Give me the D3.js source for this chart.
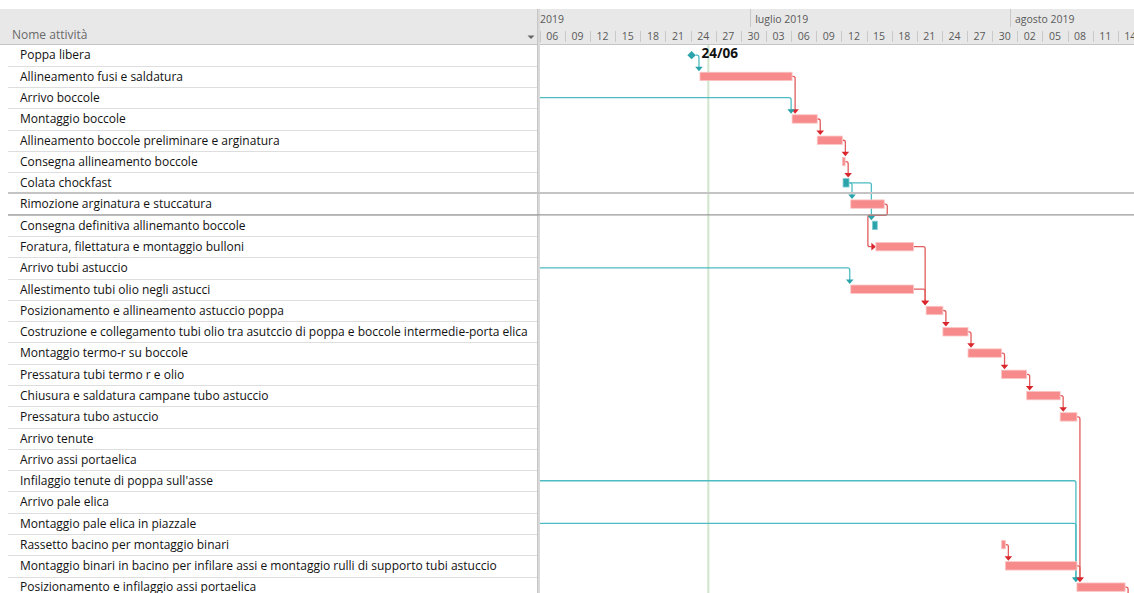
<!DOCTYPE html>
<html lang="it">
<head>
<meta charset="utf-8">
<title>Gantt – lavori poppa</title>
<script src="https://cdn.jsdelivr.net/npm/d3@7"></script>
<style>
  html, body { margin: 0; padding: 0; background: #fff; }
  svg { display: block; font-family: "Open Sans", "Noto Sans", sans-serif; }
</style>
</head>
<body>
<svg id="gantt" width="1134" height="593"></svg>
<script>
// ---- Attività ----
const taskNames = [
  "Poppa libera",
  "Allineamento fusi e saldatura",
  "Arrivo boccole",
  "Montaggio boccole",
  "Allineamento boccole preliminare e arginatura",
  "Consegna allineamento boccole",
  "Colata chockfast",
  "Rimozione arginatura e stuccatura",
  "Consegna definitiva allinemanto boccole",
  "Foratura, filettatura e montaggio bulloni",
  "Arrivo tubi astuccio",
  "Allestimento tubi olio negli astucci",
  "Posizionamento e allineamento astuccio poppa",
  "Costruzione e collegamento tubi olio tra asutccio di poppa e boccole intermedie-porta elica",
  "Montaggio termo-r su boccole",
  "Pressatura tubi termo r e olio",
  "Chiusura e saldatura campane tubo astuccio",
  "Pressatura tubo astuccio",
  "Arrivo tenute",
  "Arrivo assi portaelica",
  "Infilaggio tenute di poppa sull'asse",
  "Arrivo pale elica",
  "Montaggio pale elica in piazzale",
  "Rassetto bacino per montaggio binari",
  "Montaggio binari in bacino per infilare assi e montaggio rulli di supporto tubi astuccio",
  "Posizionamento e infilaggio assi portaelica"
];

// Inizio / fine (null = prima del periodo visualizzato)
const taskStart = [
  "2019-06-24T00:00", "2019-06-25T00:00", null, "2019-07-06T00:00", "2019-07-09T00:00",
  "2019-07-12T00:00", "2019-07-12T02:00", "2019-07-13T00:00", "2019-07-15T14:00", "2019-07-16T00:00",
  null, "2019-07-13T00:00", "2019-07-22T00:00", "2019-07-24T00:00", "2019-07-27T00:00",
  "2019-07-31T00:00", "2019-08-03T00:00", "2019-08-07T00:00", null, null,
  null, null, null, "2019-07-31T00:00", "2019-07-31T11:00",
  "2019-08-09T00:00"
];
const taskEnd = [
  "2019-06-24T00:00", "2019-07-06T00:00", null, "2019-07-09T00:00", "2019-07-12T00:00",
  "2019-07-12T08:00", "2019-07-12T19:00", "2019-07-17T00:00", "2019-07-16T04:00", "2019-07-20T12:00",
  null, "2019-07-20T12:00", "2019-07-24T00:00", "2019-07-27T00:00", "2019-07-31T00:00",
  "2019-08-03T00:00", "2019-08-07T00:00", "2019-08-09T00:00", null, null,
  null, null, null, "2019-07-31T11:00", "2019-08-09T00:00",
  "2019-08-14T18:00"
];
// m = milestone, r = attività, t = attività evidenziata, o = fuori periodo
const taskKind = [
  "m", "r", "o", "r", "r", "r", "t", "r", "t", "r",
  "o", "r", "r", "r", "r", "r", "r", "r", "o", "o",
  "o", "o", "o", "r", "r", "r"
];

// Collegamenti fine-inizio (predecessore -> successore, -1 = oltre la vista)
const linkFrom = [0, 1, 2, 3, 4, 5, 6, 6, 7, 9, 10, 11, 12, 13, 14, 15, 16, 17, 20, 22, 23, 24, 25];
const linkTo   = [1, 3, 3, 4, 5, 6, 7, 8, 9, 12, 11, 12, 13, 14, 15, 16, 17, 25, 25, 25, 24, 25, -1];

const viewStart = "2019-06-06";
const viewEnd = "2019-08-14";
const statusDate = "2019-06-26";

// ---- Layout ----
const W = 1134, H = 593;
const headTop = 9, headMid = 27, headBot = 44.5;
const rowH = 21.28;
const tableRight = 537;
const chartLeft = 540;
const barH = 8.4;

const COL = {
  bar: "#f78b8b", barEdge: "#fbc6c6",
  teal: "#2aa3ab", tealLine: "#4cbcc2",
  redLine: "#e25c5c", redArrow: "#d9262c",
  grid: "#dedede", head: "#e8e8e8", headText: "#5a5a5a",
  today: "#cfe6cc"
};

const parse = d3.isoParse;
const itLocale = d3.timeFormatLocale({
  dateTime: "%A %e %B %Y, %X", date: "%d/%m/%Y", time: "%H:%M:%S",
  periods: ["AM", "PM"],
  days: ["domenica","lunedì","martedì","mercoledì","giovedì","venerdì","sabato"],
  shortDays: ["dom","lun","mar","mer","gio","ven","sab"],
  months: ["gennaio","febbraio","marzo","aprile","maggio","giugno","luglio","agosto","settembre","ottobre","novembre","dicembre"],
  shortMonths: ["gen","feb","mar","apr","mag","giu","lug","ago","set","ott","nov","dic"]
});

const x = d3.scaleTime()
  .domain([parse(viewStart), parse(viewEnd)])
  .range([540.8, 540.8 + 69 * 8.377]);

const y = d3.scaleLinear()
  .domain([0, taskNames.length])
  .range([headBot, headBot + taskNames.length * rowH]);
const rowC = i => y(i + 0.5);

const svg = d3.select("#gantt");

// ---- Tabella a sinistra ----
svg.append("clipPath").attr("id", "clipTable").append("rect")
  .attr("x", 0).attr("y", 0).attr("width", tableRight - 2).attr("height", H);
const table = svg.append("g");
table.selectAll("line.row").data(d3.range(1, taskNames.length + 1)).join("line")
  .attr("x1", 8).attr("x2", tableRight)
  .attr("y1", i => Math.round(y(i)) + 0.5).attr("y2", i => Math.round(y(i)) + 0.5)
  .attr("stroke", COL.grid);

table.append("g").attr("clip-path", "url(#clipTable)")
  .selectAll("text.name").data(taskNames).join("text")
  .attr("x", 20).attr("y", (d, i) => rowC(i)).attr("dy", "0.36em")
  .attr("font-size", 12).attr("fill", "#111")
  .text(d => d);

// ---- Intestazione ----
const head = svg.append("g");
head.append("rect").attr("x", 0).attr("y", headTop).attr("width", W).attr("height", headBot - headTop)
  .attr("fill", COL.head);
head.append("line").attr("x1", 0).attr("x2", W).attr("y1", headBot).attr("y2", headBot)
  .attr("stroke", "#c4c4c4");
head.append("text").attr("x", 12).attr("y", 39).attr("font-size", 12).attr("fill", "#6a6a6a")
  .text("Nome attività");
head.append("path").attr("d", "M527.5,35.5 h7 l-3.5,3.5 z").attr("fill", "#666");

// scala temporale: mesi e intervalli di 3 giorni
svg.append("clipPath").attr("id", "clipHead").append("rect")
  .attr("x", chartLeft).attr("y", headTop).attr("width", W - chartLeft).attr("height", headBot - headTop);
const chartHead = head.append("g").attr("clip-path", "url(#clipHead)");

const months = d3.timeMonth.range(parse("2019-06-01"), parse("2019-09-01"));
const fmtMonth = itLocale.format("%B %Y");
chartHead.selectAll("line.month").data(months).join("line")
  .attr("x1", d => Math.round(x(d)) + 0.5).attr("x2", d => Math.round(x(d)) + 0.5)
  .attr("y1", headTop).attr("y2", headMid)
  .attr("stroke", "#c9c9c9");
chartHead.selectAll("text.month").data(months).join("text")
  .attr("x", d => x(d) + 5).attr("y", 23).attr("font-size", 10.5).attr("fill", COL.headText)
  .text(d => fmtMonth(d));

const ticks = d3.timeDay.range(parse("2019-05-31"), parse("2019-08-20"), 3);
const fmtDay = d3.timeFormat("%d");
chartHead.selectAll("line.tick").data(ticks).join("line")
  .attr("x1", d => Math.round(x(d)) - 0.5).attr("x2", d => Math.round(x(d)) - 0.5)
  .attr("y1", 31).attr("y2", 42)
  .attr("stroke", "#c9c9c9");
chartHead.selectAll("text.tick").data(ticks).join("text")
  .attr("x", d => (x(d) + x(d3.timeDay.offset(d, 3))) / 2 - 1).attr("y", 40)
  .attr("text-anchor", "middle").attr("font-size", 10.5).attr("fill", COL.headText)
  .text(d => fmtDay(d));

// divisore tabella / diagramma
svg.append("rect").attr("x", tableRight).attr("y", headTop).attr("width", 3).attr("height", H - headTop)
  .attr("fill", "#d9d9d9");
svg.append("line").attr("x1", tableRight + 0.5).attr("x2", tableRight + 0.5).attr("y1", headTop).attr("y2", H)
  .attr("stroke", "#c6c6c6");

// ---- Diagramma ----
svg.append("clipPath").attr("id", "clipChart").append("rect")
  .attr("x", chartLeft).attr("y", headBot + 0.5).attr("width", W - chartLeft).attr("height", H - headBot);
const chart = svg.append("g").attr("clip-path", "url(#clipChart)");

// linea data di stato
chart.append("line")
  .attr("x1", x(parse(statusDate))).attr("x2", x(parse(statusDate)))
  .attr("y1", headBot).attr("y2", H)
  .attr("stroke", COL.today).attr("stroke-width", 2);

// riga selezionata
const sel = 7;
svg.append("line").attr("x1", 8).attr("x2", W).attr("y1", y(sel) - 0.5).attr("y2", y(sel) - 0.5)
  .attr("stroke", "#c4c4c4").attr("stroke-width", 2);
svg.append("line").attr("x1", 8).attr("x2", W).attr("y1", y(sel + 1) + 0.2).attr("y2", y(sel + 1) + 0.2)
  .attr("stroke", "#9a9a9a").attr("stroke-width", 1.2);

// posizioni delle attività
const leftEdge = chartLeft - 20;
const tStart = i => taskStart[i] ? x(parse(taskStart[i])) : leftEdge;
const tEnd = i => taskEnd[i] ? x(parse(taskEnd[i])) : leftEdge;
const isRed = i => taskKind[i] === "r";

// collegamenti
const links = linkFrom.map((f, k) => ({ f, t: linkTo[k] }));
const linkG = chart.append("g").attr("fill", "none").attr("stroke-width", 1.3);
const arrowG = chart.append("g");

function downArrow(cx, tipY, color) {
  arrowG.append("path")
    .attr("d", `M${cx - 3.8},${tipY - 4.5} h7.6 l-3.8,4.5 z`)
    .attr("fill", color);
}
function rightArrow(tipX, cy, color) {
  arrowG.append("path")
    .attr("d", `M${tipX - 4.5},${cy - 3.8} v7.6 l4.5,-3.8 z`)
    .attr("fill", color);
}

links.forEach(({ f, t }) => {
  const red = isRed(f);
  const line = red ? COL.redLine : COL.tealLine;
  const head = red ? COL.redArrow : COL.teal;
  const x0 = taskKind[f] === "m" ? tEnd(f) + 4 : tEnd(f);
  const y0 = rowC(f);
  if (t < 0) {
    const dx = x0 + 3;
    linkG.append("path").attr("stroke", line)
      .attr("d", `M${x0},${y0} H${dx - 2} q2,0 2,2 V${H + 10}`);
    return;
  }
  const xs = tStart(t);
  const top = rowC(t) - barH / 2 - 1;
  if (xs >= x0 - 4) {
    const dx = Math.max(x0 + 3, xs - 1);
    linkG.append("path").attr("stroke", line)
      .attr("d", `M${x0},${y0} H${dx - 2} q2,0 2,2 V${top - 3}`);
    downArrow(dx, top, head);
  } else {
    // successore che inizia prima della fine: giro a sinistra
    const mid = y(f + 1) + 0.5;
    const back = xs - 8;
    linkG.append("path").attr("stroke", line)
      .attr("d", `M${x0},${y0} H${x0 + 1} q2,0 2,2 V${mid - 2} q0,2 -2,2 H${back + 2} q-2,0 -2,2 V${rowC(t) - 2} q0,2 2,2 H${xs - 3}`);
    rightArrow(xs, rowC(t), head);
  }
});

// barre
const bars = d3.range(taskNames.length).filter(i => taskKind[i] === "r" || taskKind[i] === "t");
chart.selectAll("rect.bar").data(bars).join("rect")
  .attr("x", i => tStart(i))
  .attr("y", i => rowC(i) - barH / 2)
  .attr("width", i => Math.max(2, tEnd(i) - tStart(i)))
  .attr("height", barH)
  .attr("fill", i => isRed(i) ? COL.bar : COL.teal)
  .attr("stroke", i => isRed(i) ? COL.barEdge : "#7fcdd2")
  .attr("stroke-width", 0.8);

// milestone
const ms = d3.range(taskNames.length).filter(i => taskKind[i] === "m");
const fmtMs = d3.timeFormat("%d/%m");
chart.selectAll("path.ms").data(ms).join("path")
  .attr("d", i => {
    const cx = tStart(i), cy = rowC(i);
    return `M${cx},${cy - 4.2} L${cx + 4.2},${cy} L${cx},${cy + 4.2} L${cx - 4.2},${cy} Z`;
  })
  .attr("fill", COL.teal);
chart.selectAll("text.ms").data(ms).join("text")
  .attr("x", i => tStart(i) + 10).attr("y", i => rowC(i) - 2.5).attr("dy", "0.36em")
  .attr("font-size", 13.5).attr("font-weight", "bold").attr("fill", "#111")
  .text(i => fmtMs(parse(taskStart[i])));
</script>
</body>
</html>
